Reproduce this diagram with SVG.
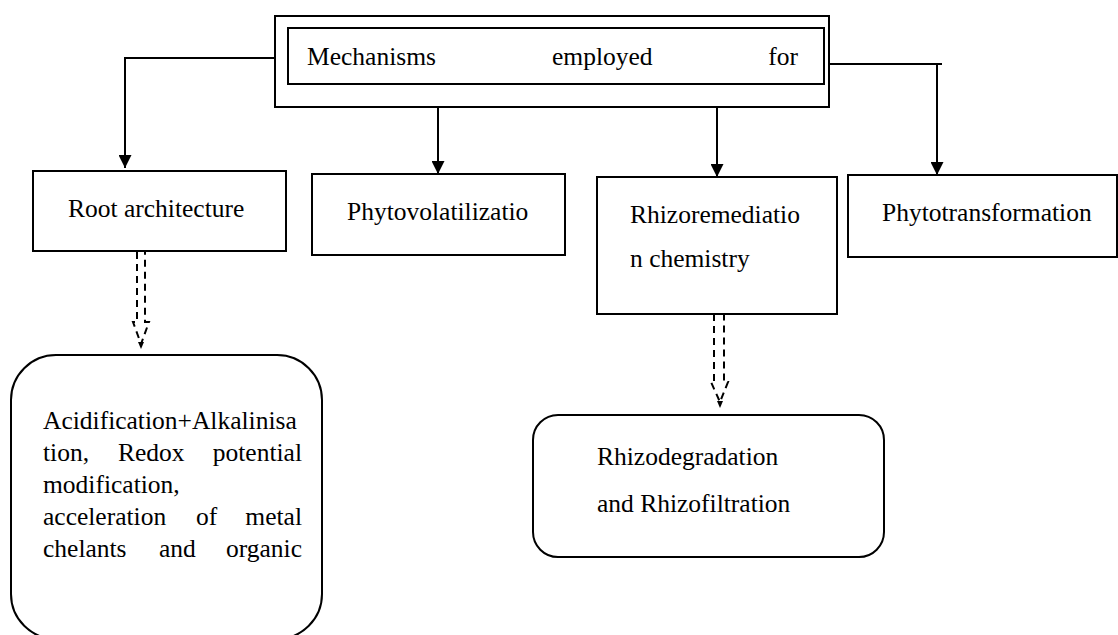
<svg xmlns="http://www.w3.org/2000/svg" width="1118" height="635" viewBox="0 0 1118 635">
<style>
.box{fill:#fff;stroke:#000;stroke-width:2}
text{font-family:'Liberation Serif','Tinos','DejaVu Serif',serif;font-size:25.5px;fill:#000}
.e{text-anchor:end}
.c{fill:none;stroke:#000;stroke-width:2}
.d{fill:none;stroke:#000;stroke-width:2;stroke-dasharray:7,5}
</style>
<defs>
<marker id="arr" markerWidth="14" markerHeight="13" refX="13" refY="6.5" orient="auto" markerUnits="userSpaceOnUse">
<path d="M0,0 L13,6.5 L0,13 z" fill="#000"/>
</marker>
</defs>
<rect width="1118" height="635" fill="#fff"/>
<g id="connectors">
<polyline class="c" points="275,58 125,58 125,168" marker-end="url(#arr)"/>
<line class="c" x1="438" y1="107" x2="438" y2="174" marker-end="url(#arr)"/>
<line class="c" x1="717" y1="107" x2="717" y2="177" marker-end="url(#arr)"/>
<line class="c" x1="823" y1="64" x2="942" y2="64"/>
<line class="c" x1="937" y1="64" x2="937" y2="175" marker-end="url(#arr)"/>
<path class="d" d="M137,252 V322 H133 L141,344 L149,322 H145 V252"/>
<polygon points="138,342 144,342 141,349" fill="#000"/>
<path class="d" d="M714,314 V382 H711 L720,402 L728,382 H724 V314"/>
<polygon points="717,401 723,401 720,408" fill="#000"/>
</g>
<g id="top">
<rect class="box" x="275" y="16" width="554" height="91"/>
<rect class="box" x="288" y="28" width="536" height="56"/>
<text x="307" y="65">Mechanisms</text>
<text x="552" y="65">employed</text>
<text class="e" x="798" y="65">for</text>
</g>
<g id="root">
<rect class="box" x="33" y="171" width="253" height="80"/>
<text x="68" y="217">Root architecture</text>
</g>
<g id="phytovol">
<rect class="box" x="312" y="174" width="253" height="81"/>
<text x="347" y="220">Phytovolatilizatio</text>
</g>
<g id="rhizorem">
<rect class="box" x="597" y="177" width="240" height="137"/>
<text x="630" y="223">Rhizoremediatio</text>
<text x="630" y="267">n chemistry</text>
</g>
<g id="phytotrans">
<rect class="box" x="848" y="175" width="269" height="82"/>
<text x="882" y="221">Phytotransformation</text>
</g>
<g id="acid">
<rect class="box" x="11" y="355" width="311" height="284" rx="45" ry="45"/>
<text x="43" y="429">Acidification+Alkalinisa</text>
<text x="43" y="461">tion,</text>
<text x="118" y="461">Redox</text>
<text class="e" x="302" y="461">potential</text>
<text x="43" y="493">modification,</text>
<text x="43" y="525">acceleration</text>
<text x="196" y="525">of</text>
<text class="e" x="302" y="525">metal</text>
<text x="43" y="557">chelants</text>
<text x="159" y="557">and</text>
<text class="e" x="302" y="557">organic</text>
</g>
<g id="rhizodeg">
<rect class="box" x="533" y="415" width="351" height="142" rx="25" ry="25"/>
<text x="597" y="465">Rhizodegradation</text>
<text x="597" y="512">and Rhizofiltration</text>
</g>
</svg>
